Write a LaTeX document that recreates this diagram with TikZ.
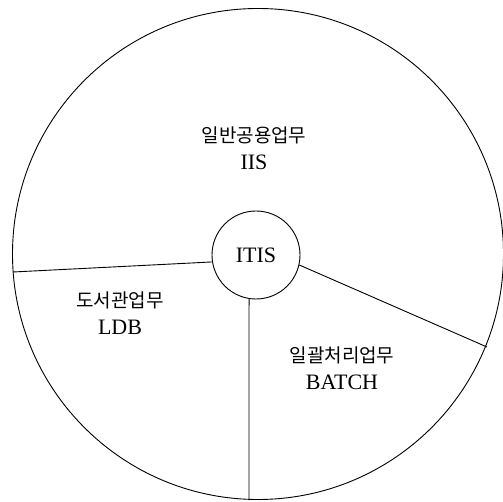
\documentclass[tikz,border=0pt]{standalone}
\usepackage{fontspec}
\setmainfont{Liberation Serif}
\newfontfamily\kr{Noto Sans CJK KR}
\begin{document}
\begin{tikzpicture}[x=1pt,y=-1pt,
  ln/.style={line width=0.9pt,draw=black},
  lbl/.style={align=center,font=\fontsize{22}{27}\selectfont},
  kor/.style={font=\fontsize{19}{27}\kr}]
\useasboundingbox (0,0) rectangle (503,502);
\node[ln,circle,minimum size=491pt,inner sep=0pt] (big) at (258,254) {};
\node[ln,circle,minimum size=88pt,inner sep=0pt,font=\fontsize{22}{24}\selectfont] (itis) at (256,255) {ITIS};
\coordinate (lend) at (13,272);
\coordinate (bend) at (249,500);
\coordinate (rend) at (487,347);
\draw[ln] (itis.189) -- (lend);
\draw[ln] (itis.261) -- (bend);
\draw[ln] (itis.-13) -- (rend);
\node[lbl] (top) at (254,148) {{\fontsize{19}{27}\kr 일반공용업무}\\IIS};
\node[lbl] (left) at (120,313) {{\fontsize{19}{27}\kr 도서관업무}\\LDB};
\node[lbl] (right) at (342,368) {{\fontsize{19}{27}\kr 일괄처리업무}\\BATCH};
\end{tikzpicture}
\end{document}
